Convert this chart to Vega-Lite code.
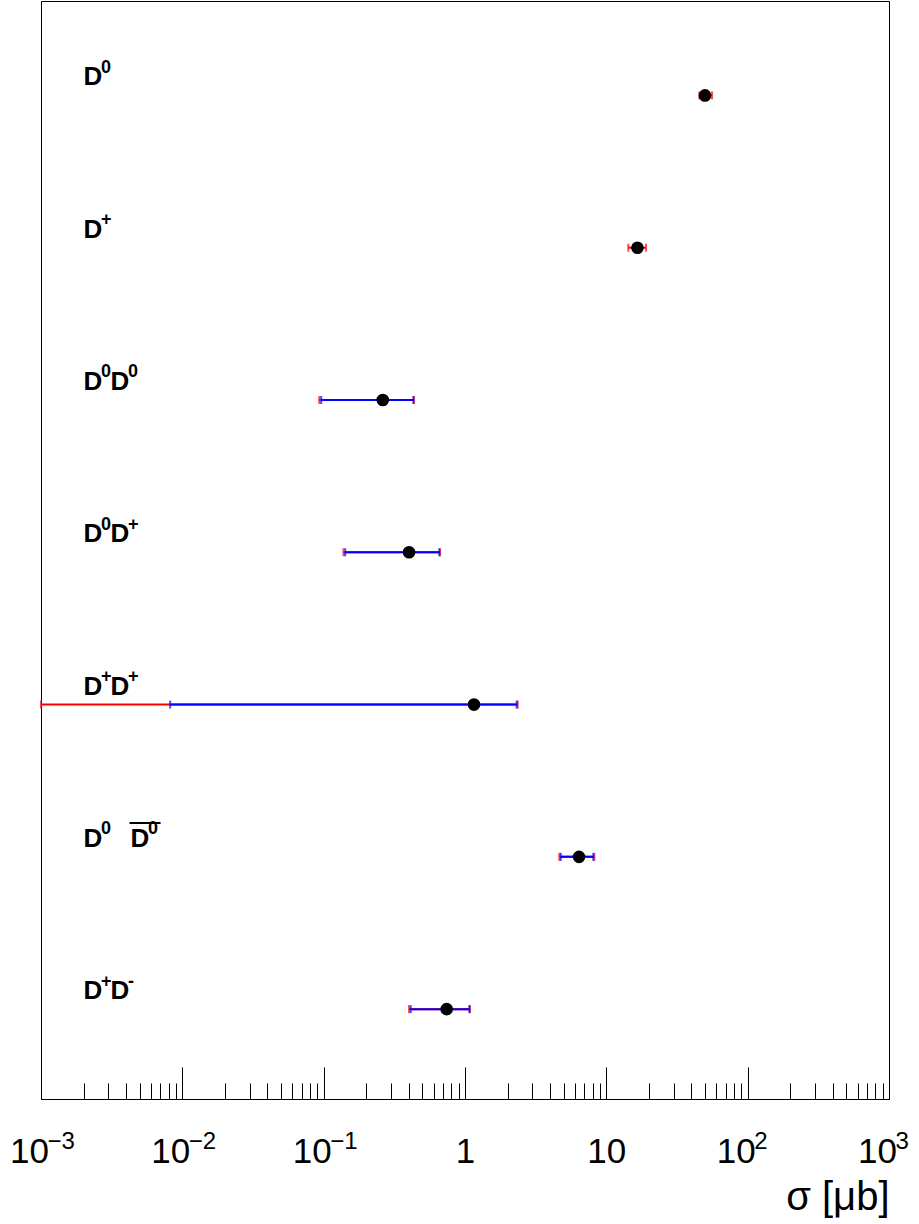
{
  "$schema": "https://vega.github.io/schema/vega-lite/v6.json",
  "width": 848,
  "height": 1098,
  "autosize": {"type": "none"},
  "padding": {"left": 41, "top": 1, "right": 30, "bottom": 125},
  "background": "white",
  "config": {
    "view": {"stroke": "black", "strokeWidth": 1},
    "font": "Liberation Sans"
  },
  "datasets": {
    "xsec": [
      {"state": "D0", "row": 7, "sigma": 49.9, "stat_lo": 47.5, "stat_hi": 52.3, "tot_lo": 45.5, "tot_hi": 56.0, "a": "D", "as": "0", "b": null, "bs": null, "bar": false},
      {"state": "D+", "row": 6, "sigma": 16.6, "stat_lo": 15.8, "stat_hi": 17.4, "tot_lo": 14.3, "tot_hi": 19.1, "a": "D", "as": "+", "b": null, "bs": null, "bar": false},
      {"state": "D0D0", "row": 5, "sigma": 0.262, "stat_lo": 0.096, "stat_hi": 0.431, "tot_lo": 0.093, "tot_hi": 0.436, "a": "D", "as": "0", "b": "D", "bs": "0", "bar": false},
      {"state": "D0D+", "row": 4, "sigma": 0.402, "stat_lo": 0.142, "stat_hi": 0.658, "tot_lo": 0.138, "tot_hi": 0.666, "a": "D", "as": "0", "b": "D", "bs": "+", "bar": false},
      {"state": "D+D+", "row": 3, "sigma": 1.158, "stat_lo": 0.0082, "stat_hi": 2.32, "tot_lo": 0.001, "tot_hi": 2.36, "a": "D", "as": "+", "b": "D", "bs": "+", "bar": false},
      {"state": "D0D0bar", "row": 2, "sigma": 6.41, "stat_lo": 4.76, "stat_hi": 8.09, "tot_lo": 4.65, "tot_hi": 8.22, "a": "D", "as": "0", "b": "D", "bs": "0", "bar": true},
      {"state": "D+D-", "row": 1, "sigma": 0.742, "stat_lo": 0.413, "stat_hi": 1.073, "tot_lo": 0.402, "tot_hi": 1.085, "a": "D", "as": "+", "b": "D", "bs": "-", "bar": false}
    ]
  },
  "data": {"name": "xsec"},
  "encoding": {
    "y": {"field": "row", "type": "quantitative", "scale": {"domain": [0.41, 7.62], "nice": false, "zero": false}, "axis": null}
  },
  "layer": [
    {
      "mark": {"type": "rule", "color": "#ff0000", "strokeWidth": 2},
      "encoding": {
        "x": {
          "field": "tot_lo", "type": "quantitative",
          "scale": {"type": "log", "domain": [0.001, 1000], "nice": false},
          "title": "σ [μb]",
          "axis": {
            "orient": "bottom",
            "values": [0.001, 0.01, 0.1, 100, 1000],
            "domain": false, "ticks": false, "tickSize": 0, "grid": false,
            "labelExpr": "datum.value == 0.001 ? '−3' : datum.value == 0.01 ? '−2' : datum.value == 0.1 ? '−1' : datum.value == 100 ? '2' : '3'",
            "labelFont": "Liberation Sans", "labelFontSize": 24, "labelColor": "black",
            "labelAlign": "left", "labelBaseline": "top", "labelOffset": 6, "labelPadding": 30,
            "labelFlush": false, "labelOverlap": false, "labelBound": false,
            "titleFont": "Liberation Sans", "titleFontSize": 40, "titleFontWeight": "normal", "titleColor": "black",
            "titleAnchor": "end", "titlePadding": 24
          }
        },
        "x2": {"field": "tot_hi"}
      }
    },
    {
      "mark": {"type": "tick", "orient": "vertical", "color": "#ff0000", "size": 8, "thickness": 2},
      "encoding": {"x": {"field": "tot_lo", "type": "quantitative", "axis": null}}
    },
    {
      "mark": {"type": "tick", "orient": "vertical", "color": "#ff0000", "size": 8, "thickness": 2},
      "encoding": {"x": {"field": "tot_hi", "type": "quantitative", "axis": null}}
    },
    {
      "mark": {"type": "rule", "color": "#0000ff", "strokeWidth": 2},
      "encoding": {
        "x": {"field": "stat_lo", "type": "quantitative", "axis": null},
        "x2": {"field": "stat_hi"}
      }
    },
    {
      "mark": {"type": "tick", "orient": "vertical", "color": "#0000ff", "size": 8, "thickness": 2},
      "encoding": {"x": {"field": "stat_lo", "type": "quantitative", "axis": null}}
    },
    {
      "mark": {"type": "tick", "orient": "vertical", "color": "#0000ff", "size": 8, "thickness": 2},
      "encoding": {"x": {"field": "stat_hi", "type": "quantitative", "axis": null}}
    },
    {
      "mark": {"type": "point", "shape": "circle", "filled": true, "color": "black", "opacity": 1, "size": 160},
      "encoding": {
        "x": {
          "field": "sigma", "type": "quantitative", "title": null,
          "axis": {
            "orient": "bottom",
            "values": [0.001, 0.002, 0.003, 0.004, 0.005, 0.006, 0.007, 0.008, 0.009,
                       0.01, 0.02, 0.03, 0.04, 0.05, 0.06, 0.07, 0.08, 0.09,
                       0.1, 0.2, 0.3, 0.4, 0.5, 0.6, 0.7, 0.8, 0.9,
                       1, 2, 3, 4, 5, 6, 7, 8, 9,
                       10, 20, 30, 40, 50, 60, 70, 80, 90,
                       100, 200, 300, 400, 500, 600, 700, 800, 900, 1000],
            "grid": false, "domain": true, "domainColor": "black", "domainWidth": 1,
            "tickColor": "black", "tickWidth": 1,
            "tickSize": {"condition": {"test": "abs(log(datum.value)/LN10 - round(log(datum.value)/LN10)) < 1e-6", "value": -32}, "value": -16},
            "labelExpr": "abs(log(datum.value)/LN10 - round(log(datum.value)/LN10)) < 1e-6 ? (datum.value == 1 ? '1' : '10') : ''",
            "labelOffset": {"condition": {"test": "abs(log(datum.value)/LN10 - round(log(datum.value)/LN10)) < 1e-6 && datum.value != 1 && datum.value != 10", "value": -12}, "value": 0},
            "labelFont": "Liberation Sans", "labelFontSize": 35, "labelColor": "black",
            "labelAlign": "center", "labelBaseline": "top", "labelPadding": 67,
            "labelFlush": false, "labelOverlap": false, "labelBound": false
          }
        }
      }
    },
    {
      "mark": {"type": "text", "align": "left", "baseline": "alphabetic", "font": "Liberation Sans", "fontWeight": "bold", "fontSize": 26, "dy": -10, "color": "black"},
      "encoding": {"x": {"datum": 0.002, "type": "quantitative", "axis": null}, "text": {"field": "a"}}
    },
    {
      "mark": {"type": "text", "align": "left", "baseline": "alphabetic", "font": "Liberation Sans", "fontWeight": "bold", "fontSize": 18, "dx": 17.5, "dy": -22.5, "color": "black"},
      "encoding": {"x": {"datum": 0.002, "type": "quantitative", "axis": null}, "text": {"field": "as"}}
    },
    {
      "transform": [{"filter": "datum.b && !datum.bar"}],
      "mark": {"type": "text", "align": "left", "baseline": "alphabetic", "font": "Liberation Sans", "fontWeight": "bold", "fontSize": 26, "dx": 27, "dy": -10, "color": "black"},
      "encoding": {"x": {"datum": 0.002, "type": "quantitative", "axis": null}, "text": {"field": "b"}}
    },
    {
      "transform": [{"filter": "datum.b && !datum.bar"}],
      "mark": {"type": "text", "align": "left", "baseline": "alphabetic", "font": "Liberation Sans", "fontWeight": "bold", "fontSize": 18, "dx": 44.5, "dy": -22.5, "color": "black"},
      "encoding": {"x": {"datum": 0.002, "type": "quantitative", "axis": null}, "text": {"field": "bs"}}
    },
    {
      "transform": [{"filter": "datum.bar"}],
      "mark": {"type": "text", "align": "left", "baseline": "alphabetic", "font": "Liberation Sans", "fontWeight": "bold", "fontSize": 26, "dx": 47, "dy": -10, "color": "black"},
      "encoding": {"x": {"datum": 0.002, "type": "quantitative", "axis": null}, "text": {"field": "b"}}
    },
    {
      "transform": [{"filter": "datum.bar"}],
      "mark": {"type": "text", "align": "left", "baseline": "alphabetic", "font": "Liberation Sans", "fontWeight": "bold", "fontSize": 18, "dx": 64.5, "dy": -22.5, "color": "black"},
      "encoding": {"x": {"datum": 0.002, "type": "quantitative", "axis": null}, "text": {"field": "bs"}}
    },
    {
      "transform": [{"filter": "datum.bar"}],
      "mark": {"type": "text", "align": "left", "baseline": "alphabetic", "font": "Liberation Sans", "fontWeight": "normal", "fontSize": 31, "dx": 46, "dy": -26, "color": "black", "text": "—"},
      "encoding": {"x": {"datum": 0.002, "type": "quantitative", "axis": null}}
    }
  ],
  "resolve": {"axis": {"x": "independent"}}
}
